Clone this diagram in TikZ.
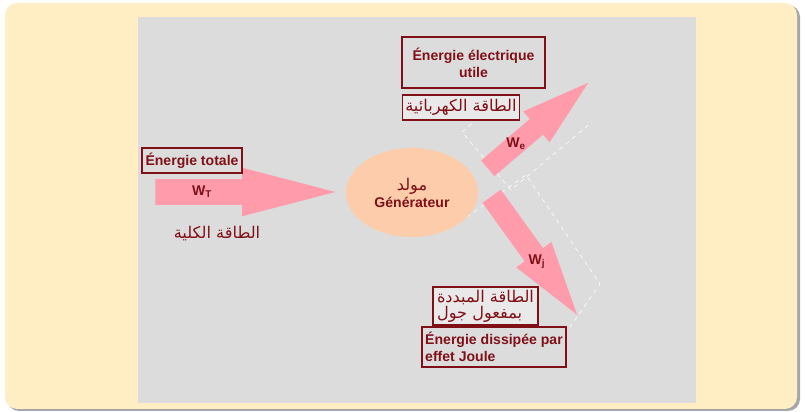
\documentclass[tikz,border=0pt]{standalone}
\usepackage{fontspec}
\setmainfont{Liberation Sans}
\newfontfamily\arabicfont[Script=Arabic]{DejaVu Sans}
\TeXXeTstate=1
\usetikzlibrary{shapes.geometric,shapes.arrows}

\definecolor{cream}{RGB}{255,238,196}
\definecolor{panel}{RGB}{220,220,220}
\definecolor{wine}{RGB}{128,16,24}
\definecolor{flow}{RGB}{255,155,170}
\definecolor{peach}{RGB}{253,204,170}
\definecolor{boxfill}{RGB}{233,233,233}

\newcommand{\artxt}[1]{{\arabicfont\mdseries\fontsize{11.5}{11.5}\selectfont\beginR #1\endR}}

\tikzset{
  lbl/.style={text=wine, font=\bfseries},
  framed/.style={lbl, draw=wine, line width=1pt, inner sep=2pt, align=center},
  arbox/.style={draw=wine, line width=1.4pt, fill=boxfill, text=wine, inner sep=2pt,
                font=\fontsize{11.5}{11.5}\selectfont},
  flowarrow/.style={single arrow, fill=flow, draw=none, anchor=tail, minimum width=0pt, inner xsep=0pt},
  ghost/.style={white, dashed, line width=0.5pt, opacity=0.9}
}

\begin{document}
\begin{tikzpicture}[x=0.025cm, y=-0.025cm]
  \useasboundingbox (0,0) rectangle (805,412);
  % frame and panel
  \fill[gray!70, rounded corners=0.3cm] (7,5) rectangle (800,411);
  \fill[cream, rounded corners=0.3cm] (5,3) rectangle (797,409);
  \fill[panel] (138,17) rectangle (696,403);

  % selection outlines
  \draw[ghost] (478,118) -- (462,132) -- (511,190) -- (592,122);
  \draw[ghost] (467,217) -- (526,175) -- (600,284) -- (570,327);

  % energy flows
  \node[flowarrow, minimum height=4.5cm, inner ysep=0.3125cm,
        single arrow head extend=0.2875cm, single arrow tip angle=29.2] (arrT) at (155,192) {};
  \node[flowarrow, rotate=40.4, minimum height=3.3cm, inner ysep=0.25cm,
        single arrow head extend=0.25cm, single arrow tip angle=33.2] (arrE) at (487.5,168.5) {};
  \node[flowarrow, rotate=-54.2, minimum height=3.65cm, inner ysep=0.275cm,
        single arrow head extend=0.26cm, single arrow tip angle=32.7] (arrJ) at (491.5,196) {};

  % generator
  \node[ellipse, fill=peach, minimum width=3.3cm, minimum height=2.225cm, lbl, align=center]
        (gen) at (412,192.5) {\artxt{مولد}\\Générateur};

  % labels
  \node[framed, minimum width=2.5cm, minimum height=0.625cm] (tot) at (192,160.5) {Énergie totale};
  \node[lbl] (wt) at (202,192) {W\textsubscript{T}};
  \node[text=wine] (totar) at (217,234) {\artxt{الطاقة الكلية}};

  \node[framed, minimum width=3.575cm, minimum height=1.275cm] (elec) at (473.5,62.5) {Énergie électrique\\utile};
  \node[arbox, minimum width=2.9cm, minimum height=0.625cm] (elecar) at (461,107.5) {\artxt{الطاقة الكهربائية}};
  \node[lbl] (we) at (516,144) {W\textsubscript{e}};

  \node[lbl] (wj) at (537,262) {W\textsubscript{j}};
  \node[arbox, line width=1pt, align=left, minimum width=2.625cm, minimum height=0.95cm]
        (joulear) at (485.5,306) {\artxt{الطاقة المبددة}\\\artxt{بمفعول جول}};
  \node[framed, align=left, minimum width=3.6cm, minimum height=1cm, inner xsep=1pt]
        (joule) at (494,347) {Énergie dissipée par\\effet Joule};
\end{tikzpicture}
\end{document}
